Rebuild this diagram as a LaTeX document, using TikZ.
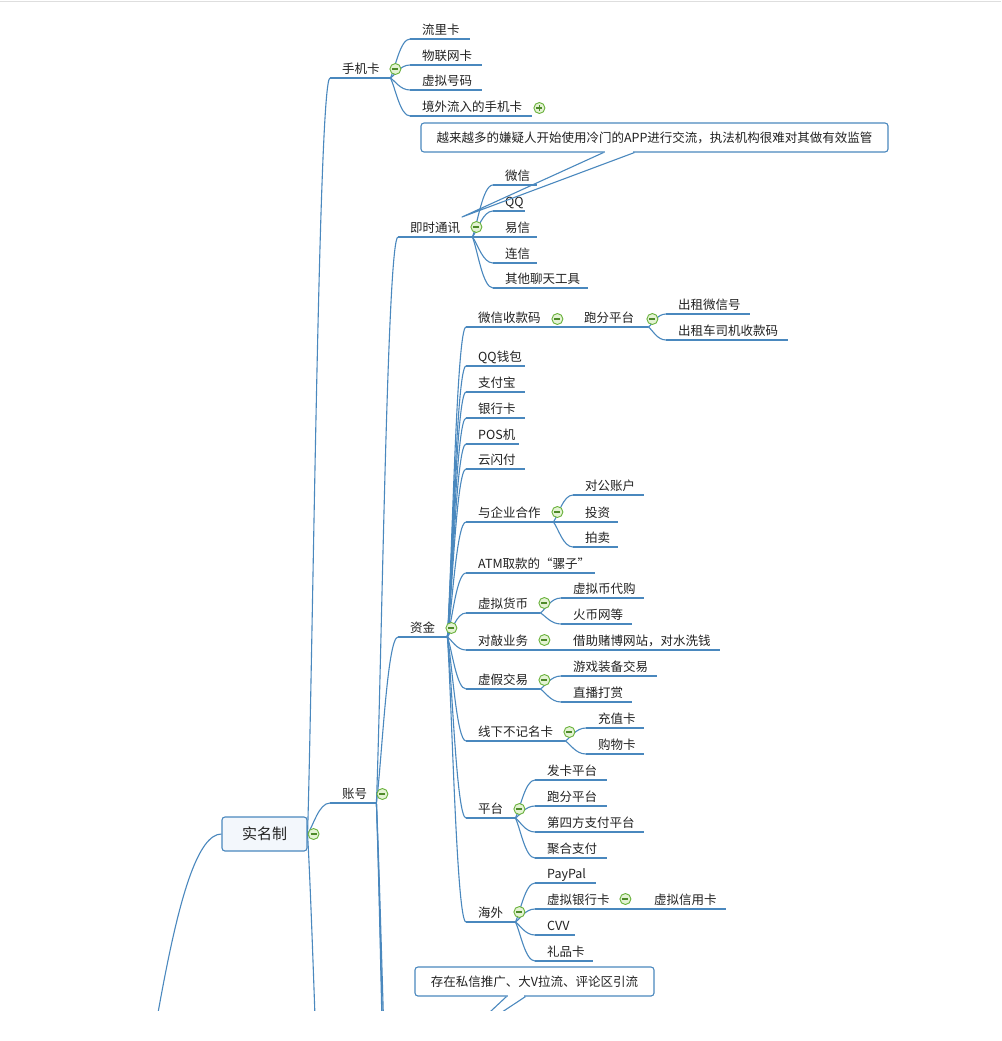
\documentclass[tikz,border=0pt]{standalone}
\usepackage{fontspec}
\newfontfamily\zh{Noto Sans CJK SC}
\usetikzlibrary{calc}
\definecolor{lnc}{HTML}{4A88BE}
\definecolor{txtc}{HTML}{222222}
\definecolor{rootf}{HTML}{F3F7FC}
\definecolor{foldc}{HTML}{6AB23C}
\definecolor{foldf}{HTML}{E4F3D4}
\definecolor{foldm}{HTML}{4E8A2A}

\begin{document}
\begin{tikzpicture}[x=1pt, y=-1pt,
  ln/.style={draw=lnc, line width=1.1pt},
  br/.style={ln, to path={.. controls ($(\tikztostart)!0.25!(\tikztotarget)$)
      and ($(\tikztotarget)!0.5!(\tikztostart |- \tikztotarget)$) .. (\tikztotarget)}},
  topic/.style={anchor=south west, inner xsep=0pt, inner ysep=4.75pt, text depth=0pt,
      text width=#1pt, align=left, text=txtc, font=\zh\fontsize{12.5}{14}\selectfont,
      execute at begin node={\hspace*{12pt}},
      append after command={(\tikzlastnode.south west) edge[ln] (\tikzlastnode.south east)}},
  rootbox/.style={draw=lnc, fill=rootf, line width=1.1pt, rounded corners=3pt,
      minimum width=85pt, minimum height=34pt, inner sep=0pt, text=txtc,
      font=\zh\fontsize{15}{18}\selectfont},
  note/.style={draw=lnc, fill=white, line width=1.1pt, rounded corners=3pt,
      minimum width=#1pt, minimum height=29pt, inner sep=0pt, text=txtc,
      font=\zh\fontsize{12.5}{14}\selectfont},
  fold/.style={circle, draw=foldc, fill=foldf, line width=0.9pt, minimum size=11pt, inner sep=0pt,
      path picture={\draw[foldm, line width=1.3pt] ($(path picture bounding box.center)+(-3,0)$) -- ++(6,0);}},
  unfold/.style={fold,
      path picture={\draw[foldm, line width=1.3pt] ($(path picture bounding box.center)+(-3,0)$) -- ++(6,0)
        ($(path picture bounding box.center)+(0,-3)$) -- ++(0,6);}}]

  \useasboundingbox (0,0) rectangle (1001,1041);
  \fill[white] (0,0) rectangle (1001,1041);
  \draw[black!13, line width=1.5pt] (0,1.5) -- (1001,1.5);

  % root and first level
  \node[rootbox] (root) at (264.5,834) {实名制};
  \node[topic=60] (sjk) at (330,78) {手机卡};
  \node[topic=46] (zh) at (330,803) {账号};

  % 手机卡
  \node[topic=60] (llk) at (410,39) {流里卡};
  \node[topic=72] (wlw) at (410,65) {物联网卡};
  \node[topic=72] (xnh) at (410,90) {虚拟号码};
  \node[topic=122] (jwl) at (410,116) {境外流入的手机卡};

  % 账号
  \node[topic=74] (jstx) at (398,237) {即时通讯};
  \node[topic=49] (zj) at (398,637) {资金};

  \node[topic=44] (wx) at (493,185) {微信};
  \node[topic=32] (qq) at (493,211) {QQ};
  \node[topic=44] (yx) at (493,237) {易信};
  \node[topic=44] (lx) at (493,263) {连信};
  \node[topic=95] (qtlt) at (493,288) {其他聊天工具};

  % 资金
  \node[topic=87] (wxsk) at (466,327) {微信收款码};
  \node[topic=76] (pfpt) at (572,327) {跑分平台};
  \node[topic=84] (czwx) at (666,314) {出租微信号};
  \node[topic=122] (czsj) at (666,340) {出租车司机收款码};
  \node[topic=59] (qqqb) at (466,366) {QQ钱包};
  \node[topic=59] (zfb) at (466,392) {支付宝};
  \node[topic=59] (yhk) at (466,418) {银行卡};
  \node[topic=53] (pos) at (466,444) {POS机};
  \node[topic=59] (ysf) at (466,469) {云闪付};
  \node[topic=87] (qyhz) at (466,522) {与企业合作};
  \node[topic=71] (dgzh) at (573,495) {对公账户};
  \node[topic=45] (tz) at (573,522) {投资};
  \node[topic=45] (pm) at (573,547) {拍卖};
  \node[topic=129] (atm) at (466,573) {ATM取款的“骡子”};
  \node[topic=74] (xnhb) at (466,613) {虚拟货币};
  \node[topic=83] (xnbd) at (561,598) {虚拟币代购};
  \node[topic=71] (hbw) at (561,624) {火币网等};
  \node[topic=74] (dq) at (466,650) {对敲业务};
  \node[topic=159] (jzdb) at (561,650) {借助赌博网站，对水洗钱};
  \node[topic=74] (xjjy) at (466,689) {虚假交易};
  \node[topic=96] (yxzb) at (561,676) {游戏装备交易};
  \node[topic=71] (zbds) at (561,702) {直播打赏};
  \node[topic=99] (xxbj) at (466,741) {线下不记名卡};
  \node[topic=58] (czk) at (586,728) {充值卡};
  \node[topic=58] (gwk) at (586,754) {购物卡};
  \node[topic=49] (pt) at (466,818) {平台};
  \node[topic=72] (fkpt) at (535,780) {发卡平台};
  \node[topic=72] (pfpt2) at (535,806) {跑分平台};
  \node[topic=109] (dsf) at (535,832) {第四方支付平台};
  \node[topic=72] (jhzf) at (535,858) {聚合支付};
  \node[topic=49] (hw) at (466,922) {海外};
  \node[topic=61] (paypal) at (535,883) {PayPal};
  \node[topic=86] (xnyh) at (535,909) {虚拟银行卡};
  \node[topic=84] (xnxy) at (642,909) {虚拟信用卡};
  \node[topic=40] (cvv) at (535,935) {CVV};
  \node[topic=58] (lpk) at (535,961) {礼品卡};

  % notes
  \node[note=467] (n1) at (654.5,137.5) {越来越多的嫌疑人开始使用冷门的APP进行交流，执法机构很难对其做有效监管};
  \node[note=239] (n2) at (534.5,981.5) {存在私信推广、大V拉流、评论区引流};

  % connectors
  \path (root.east) edge[br] (sjk.south west) edge[br] (zh.south west);
  \path (sjk.south east) edge[br] (llk.south west) edge[br] (wlw.south west)
    edge[br] (xnh.south west) edge[br] (jwl.south west);
  \path (zh.south east) edge[br] (jstx.south west) edge[br] (zj.south west);
  \path (jstx.south east) edge[br] (wx.south west) edge[br] (qq.south west)
    edge[br] (yx.south west) edge[br] (lx.south west) edge[br] (qtlt.south west);
  \path (zj.south east) edge[br] (wxsk.south west) edge[br] (qqqb.south west)
    edge[br] (zfb.south west) edge[br] (yhk.south west) edge[br] (pos.south west)
    edge[br] (ysf.south west) edge[br] (qyhz.south west) edge[br] (atm.south west)
    edge[br] (xnhb.south west) edge[br] (dq.south west) edge[br] (xjjy.south west)
    edge[br] (xxbj.south west) edge[br] (pt.south west) edge[br] (hw.south west);
  \path (wxsk.south east) edge[br] (pfpt.south west);
  \path (pfpt.south east) edge[br] (czwx.south west) edge[br] (czsj.south west);
  \path (qyhz.south east) edge[br] (dgzh.south west) edge[br] (tz.south west)
    edge[br] (pm.south west);
  \path (xnhb.south east) edge[br] (xnbd.south west) edge[br] (hbw.south west);
  \path (dq.south east) edge[br] (jzdb.south west);
  \path (xjjy.south east) edge[br] (yxzb.south west) edge[br] (zbds.south west);
  \path (xxbj.south east) edge[br] (czk.south west) edge[br] (gwk.south west);
  \path (pt.south east) edge[br] (fkpt.south west) edge[br] (pfpt2.south west)
    edge[br] (dsf.south west) edge[br] (jhzf.south west);
  \path (hw.south east) edge[br] (paypal.south west) edge[br] (xnyh.south west)
    edge[br] (cvv.south west) edge[br] (lpk.south west);
  \path (xnyh.south east) edge[br] (xnxy.south west);

  % branches that run on below the page
  \begin{scope}
    \clip (0,0) rectangle (1001,1010);
    \coordinate (rootup) at (128,1170);
    \coordinate (rootdn) at (340,1400);
    \coordinate (zhdn1) at (400,1300);
    \coordinate (zhdn2) at (405,1550);
    \coordinate (zhdn3) at (410,1800);
    \coordinate (n2tip) at (460,1040);
    \path (rootup) edge[br] (root.west);
    \path (root.east) edge[br] (rootdn);
    \path (zh.south east) edge[br] (zhdn1) edge[br] (zhdn2) edge[br] (zhdn3);
    \fill[white] ($(n2.south west)+(93.5,-1.5)$) rectangle ($(n2.south west)+(109.5,1.5)$);
    \draw[ln, line join=round] ($(n2.south west)+(92,0)$) -- (n2tip) -- ($(n2.south west)+(111,0)$);
  \end{scope}

  % tail of the upper note
  \coordinate (n1tip) at (462,217);
  \fill[white] ($(n1.south west)+(184.5,-1.5)$) rectangle ($(n1.south west)+(212.5,1.5)$);
  \draw[ln, line join=round] ($(n1.south west)+(183,0)$) -- (n1tip) -- ($(n1.south west)+(214,0)$);

  % fold markers
  \node[fold] (root-f) at ($(root.east)+(6,0)$) {};
  \node[fold] (sjk-f) at ($(sjk.south east)+(5,-9)$) {};
  \node[unfold] (jwl-f) at ($(jwl.south east)+(7,-8)$) {};
  \node[fold] (zh-f) at ($(zh.south east)+(6,-9)$) {};
  \node[fold] (jstx-f) at ($(jstx.south east)+(4,-10)$) {};
  \node[fold] (zj-f) at ($(zj.south east)+(4,-9)$) {};
  \node[fold] (wxsk-f) at ($(wxsk.south east)+(4,-8)$) {};
  \node[fold] (pfpt-f) at ($(pfpt.south east)+(4,-8)$) {};
  \node[fold] (qyhz-f) at ($(qyhz.south east)+(4,-10)$) {};
  \node[fold] (xnhb-f) at ($(xnhb.south east)+(4,-10)$) {};
  \node[fold] (dq-f) at ($(dq.south east)+(4,-10)$) {};
  \node[fold] (xjjy-f) at ($(xjjy.south east)+(4,-9)$) {};
  \node[fold] (xxbj-f) at ($(xxbj.south east)+(4,-9)$) {};
  \node[fold] (pt-f) at ($(pt.south east)+(4,-9)$) {};
  \node[fold] (hw-f) at ($(hw.south east)+(4,-10)$) {};
  \node[fold] (xnyh-f) at ($(xnyh.south east)+(4,-10)$) {};
\end{tikzpicture}
\end{document}
